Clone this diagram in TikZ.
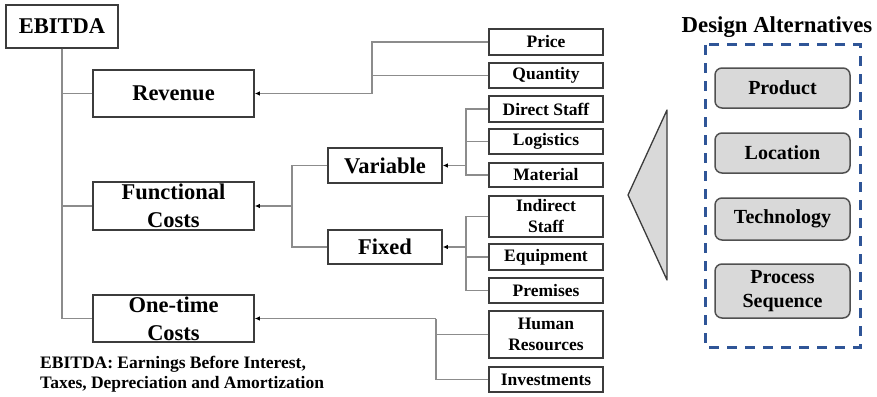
\documentclass[tikz,border=0pt]{standalone}
\usepackage{fontspec}
\setmainfont{Liberation Serif}
\usetikzlibrary{arrows.meta}
\definecolor{dashblue}{RGB}{47,85,151}
\definecolor{boxline}{RGB}{60,60,60}
\definecolor{conn}{RGB}{140,140,140}
\definecolor{altfill}{RGB}{217,217,217}
\begin{document}
\begin{tikzpicture}[x=1pt,y=-1pt,
  bigbox/.style={draw=boxline,line width=1.5pt,fill=white,inner sep=0pt,align=center,
    font=\bfseries\fontsize{22.5}{28}\selectfont},
  leafbox/.style={draw=boxline,line width=1.5pt,fill=white,inner sep=0pt,align=center,
    minimum width=114pt,font=\bfseries\fontsize{17.5}{21}\selectfont},
  altbox/.style={draw=boxline!90,line width=1.5pt,fill=altfill,rounded corners=7pt,inner sep=0pt,
    align=center,minimum width=135pt,font=\bfseries\fontsize{20}{24}\selectfont},
  link/.style={draw=conn,line width=1.3pt},
  feed/.style={link,-{Latex[length=5pt,width=4.5pt]},arrows={[color=black]}}]

\useasboundingbox (0,0) rectangle (877,396);

% tree root and main branches
\node[bigbox,minimum width=112pt,minimum height=43pt] (ebitda) at (62,26.5) {EBITDA};
\node[bigbox,minimum width=161pt,minimum height=47pt] (revenue) at (173.5,93.5) {Revenue};
\node[bigbox,minimum width=161pt,minimum height=48pt] (func) at (173.5,206) {Functional\\Costs};
\node[bigbox,minimum width=161pt,minimum height=47pt] (onetime) at (173.5,318.5) {One-time\\Costs};

% cost categories
\node[bigbox,minimum width=114pt,minimum height=35pt] (variable) at (385,165.5) {Variable};
\node[bigbox,minimum width=114pt,minimum height=34pt] (fixed) at (385,247) {Fixed};

% leaves
\node[leafbox,minimum height=26pt] (price) at (546,42) {Price};
\node[leafbox,minimum height=25pt] (quantity) at (546,75.5) {Quantity};
\node[leafbox,minimum height=26pt] (direct) at (546,109) {Direct Staff};
\node[leafbox,minimum height=25pt] (logistics) at (546,141.5) {Logistics};
\node[leafbox,minimum height=24pt] (material) at (546,175) {Material};
\node[leafbox,minimum height=41pt] (indirect) at (546,216.5) {Indirect\\Staff};
\node[leafbox,minimum height=26pt] (equipment) at (546,257) {Equipment};
\node[leafbox,minimum height=25pt] (premises) at (546,290.5) {Premises};
\node[leafbox,minimum height=47pt] (human) at (546,334.5) {Human\\Resources};
\node[leafbox,minimum height=25pt] (invest) at (546,379.5) {Investments};

% junction points
\coordinate (jr) at (372,93.5);
\coordinate (jv) at (466,165.5);
\coordinate (jf) at (466,247);
\coordinate (jc) at (292,206);
\coordinate (jo) at (436,318.5);

% root connectors
\draw[link] (ebitda.south) |- (revenue.west);
\draw[link] (ebitda.south) |- (func.west);
\draw[link] (ebitda.south) |- (onetime.west);

% revenue drivers
\draw[link] (price.west) -| (jr);
\draw[link] (quantity.west) -| (jr);
\draw[feed] (jr) -- (revenue.east);

% variable costs
\draw[link] (direct.west) -| (jv);
\draw[link] (logistics.west) -| (jv);
\draw[link] (material.west) -| (jv);
\draw[feed] (jv) -- (variable.east);

% fixed costs
\draw[link] (indirect.west) -| (jf);
\draw[link] (equipment.west) -| (jf);
\draw[link] (premises.west) -| (jf);
\draw[feed] (jf) -- (fixed.east);

% functional costs
\draw[link] (variable.west) -| (jc);
\draw[link] (fixed.west) -| (jc);
\draw[feed] (jc) -- (func.east);

% one-time costs
\draw[link] (human.west) -| (jo);
\draw[link] (invest.west) -| (jo);
\draw[feed] (jo) -- (onetime.east);

% footnote
\node[anchor=north west,inner sep=0pt,align=left,font=\bfseries\fontsize{17.5}{20}\selectfont]
  (note) at (40,356) {EBITDA: Earnings Before Interest,\\Taxes, Depreciation and Amortization};

% pointer wedge
\draw[boxline,line width=1.3pt,fill=altfill,line join=round] (667,110) -- (628,195) -- (667,280) -- cycle;

% design alternatives panel
\node[font=\bfseries\fontsize{22.8}{26}\selectfont,inner sep=0pt] (alttitle) at (777,27) {Design Alternatives};
\draw[dashblue,line width=3pt,dash pattern=on 10pt off 8pt] (705,45) rectangle (860,347);
\node[altbox,minimum height=40pt] (product) at (782.5,88) {Product};
\node[altbox,minimum height=40pt] (location) at (782.5,153) {Location};
\node[altbox,minimum height=42pt] (technology) at (782.5,219) {Technology};
\node[altbox,minimum height=54pt] (sequence) at (782.5,291) {Process\\Sequence};
\end{tikzpicture}
\end{document}
